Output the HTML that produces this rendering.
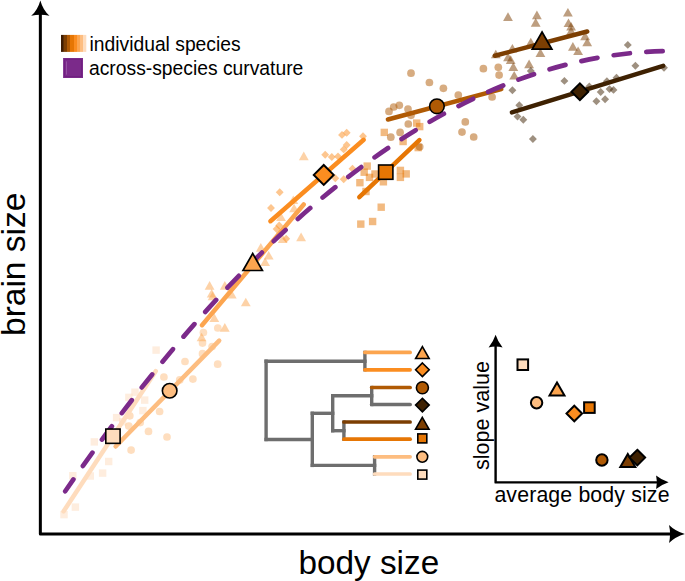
<!DOCTYPE html>
<html><head><meta charset="utf-8">
<style>
html,body{margin:0;padding:0;background:#fff;width:685px;height:581px;overflow:hidden}
svg{display:block}
text{font-family:"Liberation Sans",sans-serif;fill:#000}
</style></head><body>
<svg width="685" height="581" viewBox="0 0 685 581">
<defs>
<linearGradient id="lg" x1="0" x2="1" y1="0" y2="0">
<stop offset="0" stop-color="#3d1c02"/><stop offset="0.087" stop-color="#3d1c02"/>
<stop offset="0.087" stop-color="#5c2e04"/><stop offset="0.13" stop-color="#5c2e04"/>
<stop offset="0.13" stop-color="#7c3e02"/><stop offset="0.237" stop-color="#7c3e02"/>
<stop offset="0.237" stop-color="#b05a04"/><stop offset="0.348" stop-color="#b05a04"/>
<stop offset="0.348" stop-color="#e67604"/><stop offset="0.514" stop-color="#e67604"/>
<stop offset="0.514" stop-color="#fb8d20"/><stop offset="0.64" stop-color="#fb8d20"/>
<stop offset="0.64" stop-color="#fca54f"/><stop offset="0.75" stop-color="#fca54f"/>
<stop offset="0.75" stop-color="#fdbd80"/><stop offset="0.877" stop-color="#fdbd80"/>
<stop offset="0.877" stop-color="#fedcbd"/><stop offset="1" stop-color="#fedcbd"/>
</linearGradient></defs>
<rect x="60.30" y="510.90" width="7.40" height="7.40" fill="#fedcbd" fill-opacity="0.5"/>
<rect x="71.70" y="503.40" width="7.40" height="7.40" fill="#fedcbd" fill-opacity="0.5"/>
<rect x="69.10" y="472.00" width="7.40" height="7.40" fill="#fedcbd" fill-opacity="0.5"/>
<rect x="86.60" y="472.30" width="7.40" height="7.40" fill="#fedcbd" fill-opacity="0.5"/>
<rect x="98.90" y="469.40" width="7.40" height="7.40" fill="#fedcbd" fill-opacity="0.5"/>
<rect x="105.00" y="457.80" width="7.40" height="7.40" fill="#fedcbd" fill-opacity="0.5"/>
<rect x="90.60" y="438.20" width="7.40" height="7.40" fill="#fedcbd" fill-opacity="0.5"/>
<rect x="119.00" y="418.10" width="7.40" height="7.40" fill="#fedcbd" fill-opacity="0.5"/>
<rect x="152.40" y="346.40" width="7.40" height="7.40" fill="#fedcbd" fill-opacity="0.5"/>
<rect x="131.30" y="388.50" width="7.40" height="7.40" fill="#fedcbd" fill-opacity="0.5"/>
<rect x="125.20" y="393.70" width="7.40" height="7.40" fill="#fedcbd" fill-opacity="0.5"/>
<rect x="141.00" y="396.40" width="7.40" height="7.40" fill="#fedcbd" fill-opacity="0.5"/>
<rect x="139.20" y="406.90" width="7.40" height="7.40" fill="#fedcbd" fill-opacity="0.5"/>
<rect x="112.90" y="413.90" width="7.40" height="7.40" fill="#fedcbd" fill-opacity="0.5"/>
<circle cx="131.10" cy="450.10" r="3.85" fill="#fdbd80" fill-opacity="0.5"/>
<circle cx="148.50" cy="431.40" r="3.85" fill="#fdbd80" fill-opacity="0.5"/>
<circle cx="167.00" cy="437.00" r="3.85" fill="#fdbd80" fill-opacity="0.5"/>
<circle cx="128.80" cy="426.10" r="3.85" fill="#fdbd80" fill-opacity="0.5"/>
<circle cx="140.20" cy="422.60" r="3.85" fill="#fdbd80" fill-opacity="0.5"/>
<circle cx="185.00" cy="361.50" r="3.85" fill="#fdbd80" fill-opacity="0.5"/>
<circle cx="163.90" cy="377.00" r="3.85" fill="#fdbd80" fill-opacity="0.5"/>
<circle cx="192.90" cy="379.10" r="3.85" fill="#fdbd80" fill-opacity="0.5"/>
<circle cx="217.70" cy="364.20" r="3.85" fill="#fdbd80" fill-opacity="0.5"/>
<circle cx="212.10" cy="346.60" r="3.85" fill="#fdbd80" fill-opacity="0.5"/>
<circle cx="202.50" cy="343.10" r="3.85" fill="#fdbd80" fill-opacity="0.5"/>
<circle cx="203.40" cy="332.60" r="3.85" fill="#fdbd80" fill-opacity="0.5"/>
<circle cx="202.50" cy="353.70" r="3.85" fill="#fdbd80" fill-opacity="0.5"/>
<circle cx="159.60" cy="411.50" r="3.85" fill="#fdbd80" fill-opacity="0.5"/>
<circle cx="129.80" cy="415.80" r="3.85" fill="#fdbd80" fill-opacity="0.5"/>
<circle cx="179.70" cy="379.90" r="3.85" fill="#fdbd80" fill-opacity="0.5"/>
<circle cx="217.80" cy="328.00" r="3.85" fill="#fdbd80" fill-opacity="0.5"/>
<path d="M201.60,332.71L206.50,341.29L196.70,341.29Z" fill="#fca54f" fill-opacity="0.5" stroke-linejoin="miter"/>
<path d="M209.60,281.11L214.50,289.69L204.70,289.69Z" fill="#fca54f" fill-opacity="0.5" stroke-linejoin="miter"/>
<path d="M224.80,281.11L229.70,289.69L219.90,289.69Z" fill="#fca54f" fill-opacity="0.5" stroke-linejoin="miter"/>
<path d="M211.70,289.01L216.60,297.59L206.80,297.59Z" fill="#fca54f" fill-opacity="0.5" stroke-linejoin="miter"/>
<path d="M212.60,291.71L217.50,300.29L207.70,300.29Z" fill="#fca54f" fill-opacity="0.5" stroke-linejoin="miter"/>
<path d="M231.80,289.91L236.70,298.49L226.90,298.49Z" fill="#fca54f" fill-opacity="0.5" stroke-linejoin="miter"/>
<path d="M245.80,297.71L250.70,306.29L240.90,306.29Z" fill="#fca54f" fill-opacity="0.5" stroke-linejoin="miter"/>
<path d="M214.30,313.51L219.20,322.09L209.40,322.09Z" fill="#fca54f" fill-opacity="0.5" stroke-linejoin="miter"/>
<path d="M224.80,323.11L229.70,331.69L219.90,331.69Z" fill="#fca54f" fill-opacity="0.5" stroke-linejoin="miter"/>
<path d="M265.10,257.51L270.00,266.09L260.20,266.09Z" fill="#fca54f" fill-opacity="0.5" stroke-linejoin="miter"/>
<path d="M294.10,203.71L299.00,212.29L289.20,212.29Z" fill="#fca54f" fill-opacity="0.5" stroke-linejoin="miter"/>
<path d="M281.00,212.51L285.90,221.09L276.10,221.09Z" fill="#fca54f" fill-opacity="0.5" stroke-linejoin="miter"/>
<path d="M301.10,232.61L306.00,241.19L296.20,241.19Z" fill="#fca54f" fill-opacity="0.5" stroke-linejoin="miter"/>
<path d="M282.70,234.41L287.60,242.99L277.80,242.99Z" fill="#fca54f" fill-opacity="0.5" stroke-linejoin="miter"/>
<path d="M260.80,243.11L265.70,251.69L255.90,251.69Z" fill="#fca54f" fill-opacity="0.5" stroke-linejoin="miter"/>
<path d="M268.70,251.01L273.60,259.59L263.80,259.59Z" fill="#fca54f" fill-opacity="0.5" stroke-linejoin="miter"/>
<path d="M303.80,151.61L308.70,160.19L298.90,160.19Z" fill="#fca54f" fill-opacity="0.5" stroke-linejoin="miter"/>
<path d="M293.30,195.51L298.20,204.09L288.40,204.09Z" fill="#fca54f" fill-opacity="0.5" stroke-linejoin="miter"/>
<path d="M279.70,188.35L283.65,192.30L279.70,196.25L275.75,192.30Z" fill="#fb8d20" fill-opacity="0.5"/>
<path d="M271.00,204.05L274.95,208.00L271.00,211.95L267.05,208.00Z" fill="#fb8d20" fill-opacity="0.5"/>
<path d="M276.60,225.05L280.55,229.00L276.60,232.95L272.65,229.00Z" fill="#fb8d20" fill-opacity="0.5"/>
<path d="M279.20,221.55L283.15,225.50L279.20,229.45L275.25,225.50Z" fill="#fb8d20" fill-opacity="0.5"/>
<path d="M286.20,234.75L290.15,238.70L286.20,242.65L282.25,238.70Z" fill="#fb8d20" fill-opacity="0.5"/>
<path d="M342.00,130.95L345.95,134.90L342.00,138.85L338.05,134.90Z" fill="#fb8d20" fill-opacity="0.5"/>
<path d="M346.70,128.85L350.65,132.80L346.70,136.75L342.75,132.80Z" fill="#fb8d20" fill-opacity="0.5"/>
<path d="M363.00,132.35L366.95,136.30L363.00,140.25L359.05,136.30Z" fill="#fb8d20" fill-opacity="0.5"/>
<path d="M346.70,141.05L350.65,145.00L346.70,148.95L342.75,145.00Z" fill="#fb8d20" fill-opacity="0.5"/>
<path d="M343.70,145.45L347.65,149.40L343.70,153.35L339.75,149.40Z" fill="#fb8d20" fill-opacity="0.5"/>
<path d="M325.20,150.75L329.15,154.70L325.20,158.65L321.25,154.70Z" fill="#fb8d20" fill-opacity="0.5"/>
<path d="M331.80,153.05L335.75,157.00L331.80,160.95L327.85,157.00Z" fill="#fb8d20" fill-opacity="0.5"/>
<path d="M338.00,152.45L341.95,156.40L338.00,160.35L334.05,156.40Z" fill="#fb8d20" fill-opacity="0.5"/>
<path d="M352.50,164.75L356.45,168.70L352.50,172.65L348.55,168.70Z" fill="#fb8d20" fill-opacity="0.5"/>
<path d="M335.30,174.35L339.25,178.30L335.30,182.25L331.35,178.30Z" fill="#fb8d20" fill-opacity="0.5"/>
<path d="M343.70,175.25L347.65,179.20L343.70,183.15L339.75,179.20Z" fill="#fb8d20" fill-opacity="0.5"/>
<rect x="363.50" y="162.40" width="7.40" height="7.40" fill="#e67604" fill-opacity="0.5"/>
<rect x="360.50" y="168.50" width="7.40" height="7.40" fill="#e67604" fill-opacity="0.5"/>
<rect x="356.20" y="179.00" width="7.40" height="7.40" fill="#e67604" fill-opacity="0.5"/>
<rect x="365.80" y="173.70" width="7.40" height="7.40" fill="#e67604" fill-opacity="0.5"/>
<rect x="362.30" y="187.80" width="7.40" height="7.40" fill="#e67604" fill-opacity="0.5"/>
<rect x="380.60" y="128.70" width="7.40" height="7.40" fill="#e67604" fill-opacity="0.5"/>
<rect x="413.00" y="119.40" width="7.40" height="7.40" fill="#e67604" fill-opacity="0.5"/>
<rect x="416.00" y="122.90" width="7.40" height="7.40" fill="#e67604" fill-opacity="0.5"/>
<rect x="399.40" y="137.80" width="7.40" height="7.40" fill="#e67604" fill-opacity="0.5"/>
<rect x="371.30" y="170.30" width="7.40" height="7.40" fill="#e67604" fill-opacity="0.5"/>
<rect x="379.70" y="178.10" width="7.40" height="7.40" fill="#e67604" fill-opacity="0.5"/>
<rect x="396.70" y="166.70" width="7.40" height="7.40" fill="#e67604" fill-opacity="0.5"/>
<rect x="402.50" y="170.20" width="7.40" height="7.40" fill="#e67604" fill-opacity="0.5"/>
<rect x="396.70" y="173.70" width="7.40" height="7.40" fill="#e67604" fill-opacity="0.5"/>
<rect x="377.50" y="203.50" width="7.40" height="7.40" fill="#e67604" fill-opacity="0.5"/>
<rect x="368.90" y="217.80" width="7.40" height="7.40" fill="#e67604" fill-opacity="0.5"/>
<rect x="357.10" y="220.40" width="7.40" height="7.40" fill="#e67604" fill-opacity="0.5"/>
<rect x="414.50" y="143.90" width="7.40" height="7.40" fill="#e67604" fill-opacity="0.5"/>
<circle cx="389.00" cy="111.40" r="3.85" fill="#b05a04" fill-opacity="0.5"/>
<circle cx="411.00" cy="115.30" r="3.85" fill="#b05a04" fill-opacity="0.5"/>
<circle cx="408.30" cy="124.00" r="3.85" fill="#b05a04" fill-opacity="0.5"/>
<circle cx="400.10" cy="132.40" r="3.85" fill="#b05a04" fill-opacity="0.5"/>
<circle cx="390.80" cy="137.20" r="3.85" fill="#b05a04" fill-opacity="0.5"/>
<circle cx="419.70" cy="146.80" r="3.85" fill="#b05a04" fill-opacity="0.5"/>
<circle cx="411.00" cy="73.20" r="3.85" fill="#b05a04" fill-opacity="0.5"/>
<circle cx="429.40" cy="82.50" r="3.85" fill="#b05a04" fill-opacity="0.5"/>
<circle cx="443.40" cy="88.30" r="3.85" fill="#b05a04" fill-opacity="0.5"/>
<circle cx="458.30" cy="95.00" r="3.85" fill="#b05a04" fill-opacity="0.5"/>
<circle cx="483.40" cy="68.70" r="3.85" fill="#b05a04" fill-opacity="0.5"/>
<circle cx="498.30" cy="67.30" r="3.85" fill="#b05a04" fill-opacity="0.5"/>
<circle cx="499.10" cy="75.10" r="3.85" fill="#b05a04" fill-opacity="0.5"/>
<circle cx="492.10" cy="97.00" r="3.85" fill="#b05a04" fill-opacity="0.5"/>
<circle cx="399.30" cy="105.30" r="3.85" fill="#b05a04" fill-opacity="0.5"/>
<circle cx="393.70" cy="107.00" r="3.85" fill="#b05a04" fill-opacity="0.5"/>
<circle cx="408.00" cy="109.00" r="3.85" fill="#b05a04" fill-opacity="0.5"/>
<circle cx="465.30" cy="121.90" r="3.85" fill="#b05a04" fill-opacity="0.5"/>
<circle cx="462.00" cy="132.10" r="3.85" fill="#b05a04" fill-opacity="0.5"/>
<circle cx="473.70" cy="137.00" r="3.85" fill="#b05a04" fill-opacity="0.5"/>
<path d="M508.00,12.31L512.90,20.89L503.10,20.89Z" fill="#7c3e02" fill-opacity="0.5" stroke-linejoin="miter"/>
<path d="M536.90,10.61L541.80,19.19L532.00,19.19Z" fill="#7c3e02" fill-opacity="0.5" stroke-linejoin="miter"/>
<path d="M535.70,18.11L540.60,26.69L530.80,26.69Z" fill="#7c3e02" fill-opacity="0.5" stroke-linejoin="miter"/>
<path d="M567.90,8.01L572.80,16.59L563.00,16.59Z" fill="#7c3e02" fill-opacity="0.5" stroke-linejoin="miter"/>
<path d="M568.50,18.51L573.40,27.09L563.60,27.09Z" fill="#7c3e02" fill-opacity="0.5" stroke-linejoin="miter"/>
<path d="M571.10,22.01L576.00,30.59L566.20,30.59Z" fill="#7c3e02" fill-opacity="0.5" stroke-linejoin="miter"/>
<path d="M571.10,26.41L576.00,34.99L566.20,34.99Z" fill="#7c3e02" fill-opacity="0.5" stroke-linejoin="miter"/>
<path d="M585.10,31.61L590.00,40.19L580.20,40.19Z" fill="#7c3e02" fill-opacity="0.5" stroke-linejoin="miter"/>
<path d="M587.20,37.71L592.10,46.29L582.30,46.29Z" fill="#7c3e02" fill-opacity="0.5" stroke-linejoin="miter"/>
<path d="M572.90,42.11L577.80,50.69L568.00,50.69Z" fill="#7c3e02" fill-opacity="0.5" stroke-linejoin="miter"/>
<path d="M578.10,46.51L583.00,55.09L573.20,55.09Z" fill="#7c3e02" fill-opacity="0.5" stroke-linejoin="miter"/>
<path d="M540.40,48.31L545.30,56.89L535.50,56.89Z" fill="#7c3e02" fill-opacity="0.5" stroke-linejoin="miter"/>
<path d="M530.80,37.71L535.70,46.29L525.90,46.29Z" fill="#7c3e02" fill-opacity="0.5" stroke-linejoin="miter"/>
<path d="M512.40,43.91L517.30,52.49L507.50,52.49Z" fill="#7c3e02" fill-opacity="0.5" stroke-linejoin="miter"/>
<path d="M495.80,49.71L500.70,58.29L490.90,58.29Z" fill="#7c3e02" fill-opacity="0.5" stroke-linejoin="miter"/>
<path d="M508.00,52.61L512.90,61.19L503.10,61.19Z" fill="#7c3e02" fill-opacity="0.5" stroke-linejoin="miter"/>
<path d="M510.70,55.31L515.60,63.89L505.80,63.89Z" fill="#7c3e02" fill-opacity="0.5" stroke-linejoin="miter"/>
<path d="M513.30,62.31L518.20,70.89L508.40,70.89Z" fill="#7c3e02" fill-opacity="0.5" stroke-linejoin="miter"/>
<path d="M514.20,71.01L519.10,79.59L509.30,79.59Z" fill="#7c3e02" fill-opacity="0.5" stroke-linejoin="miter"/>
<path d="M529.10,59.61L534.00,68.19L524.20,68.19Z" fill="#7c3e02" fill-opacity="0.5" stroke-linejoin="miter"/>
<path d="M530.80,67.05L534.75,71.00L530.80,74.95L526.85,71.00Z" fill="#3e2102" fill-opacity="0.5"/>
<path d="M512.40,86.25L516.35,90.20L512.40,94.15L508.45,90.20Z" fill="#3e2102" fill-opacity="0.5"/>
<path d="M564.40,76.95L568.35,80.90L564.40,84.85L560.45,80.90Z" fill="#3e2102" fill-opacity="0.5"/>
<path d="M519.30,101.35L523.25,105.30L519.30,109.25L515.35,105.30Z" fill="#3e2102" fill-opacity="0.5"/>
<path d="M517.50,112.65L521.45,116.60L517.50,120.55L513.55,116.60Z" fill="#3e2102" fill-opacity="0.5"/>
<path d="M523.30,115.75L527.25,119.70L523.30,123.65L519.35,119.70Z" fill="#3e2102" fill-opacity="0.5"/>
<path d="M532.90,135.05L536.85,139.00L532.90,142.95L528.95,139.00Z" fill="#3e2102" fill-opacity="0.5"/>
<path d="M600.70,88.05L604.65,92.00L600.70,95.95L596.75,92.00Z" fill="#3e2102" fill-opacity="0.5"/>
<path d="M596.40,97.35L600.35,101.30L596.40,105.25L592.45,101.30Z" fill="#3e2102" fill-opacity="0.5"/>
<path d="M605.10,95.25L609.05,99.20L605.10,103.15L601.15,99.20Z" fill="#3e2102" fill-opacity="0.5"/>
<path d="M606.90,77.25L610.85,81.20L606.90,85.15L602.95,81.20Z" fill="#3e2102" fill-opacity="0.5"/>
<path d="M609.50,85.15L613.45,89.10L609.50,93.05L605.55,89.10Z" fill="#3e2102" fill-opacity="0.5"/>
<path d="M613.50,85.95L617.45,89.90L613.50,93.85L609.55,89.90Z" fill="#3e2102" fill-opacity="0.5"/>
<path d="M616.50,73.75L620.45,77.70L616.50,81.65L612.55,77.70Z" fill="#3e2102" fill-opacity="0.5"/>
<path d="M589.30,82.45L593.25,86.40L589.30,90.35L585.35,86.40Z" fill="#3e2102" fill-opacity="0.5"/>
<path d="M627.80,40.95L631.75,44.90L627.80,48.85L623.85,44.90Z" fill="#3e2102" fill-opacity="0.5"/>
<path d="M635.40,61.85L639.35,65.80L635.40,69.75L631.45,65.80Z" fill="#3e2102" fill-opacity="0.5"/>
<path d="M664.00,63.75L667.95,67.70L664.00,71.65L660.05,67.70Z" fill="#3e2102" fill-opacity="0.5"/>
<line x1="63.6" y1="511.3" x2="155.7" y2="371.2" stroke="#fedcbd" stroke-width="4.5" stroke-linecap="round"/>
<line x1="115.6" y1="446.5" x2="219.2" y2="340.6" stroke="#fdbd80" stroke-width="4.5" stroke-linecap="round"/>
<line x1="202" y1="325.2" x2="303.7" y2="204.5" stroke="#fca54f" stroke-width="4.5" stroke-linecap="round"/>
<line x1="270.4" y1="221.2" x2="363.7" y2="139.8" stroke="#fb8d20" stroke-width="4.5" stroke-linecap="round"/>
<line x1="359.3" y1="197.1" x2="419.4" y2="140.1" stroke="#e67604" stroke-width="4.5" stroke-linecap="round"/>
<line x1="387.9" y1="119.5" x2="501.3" y2="89.2" stroke="#b05a04" stroke-width="4.5" stroke-linecap="round"/>
<line x1="494.9" y1="55.7" x2="587.2" y2="31.5" stroke="#7c3e02" stroke-width="4.5" stroke-linecap="round"/>
<line x1="511.9" y1="112.4" x2="663.2" y2="65.8" stroke="#3e2102" stroke-width="4.5" stroke-linecap="round"/>
<path d="M65.20,491.22 Q364.60,58.07 664.00,51.04" fill="none" stroke="#7b2a8a" stroke-width="4.7" stroke-linecap="round" stroke-dasharray="16.4 16.42" stroke-dashoffset="2.31"/>
<rect x="105.80" y="429.05" width="14.30" height="14.30" fill="#fedcbd" stroke="#000" stroke-width="1.6"/>
<circle cx="169.65" cy="390.75" r="7.30" fill="#fdbd80" stroke="#000" stroke-width="1.6"/>
<path d="M252.70,253.51L262.40,270.49L243.00,270.49Z" fill="#fca54f" stroke="#000" stroke-width="1.7" stroke-linejoin="miter"/>
<path d="M323.75,164.95L333.70,174.90L323.75,184.85L313.80,174.90Z" fill="#fb8d20" stroke="#000" stroke-width="2.0"/>
<rect x="378.60" y="165.00" width="14.30" height="14.30" fill="#e67604" stroke="#000" stroke-width="1.6"/>
<circle cx="436.90" cy="106.30" r="7.30" fill="#b05a04" stroke="#000" stroke-width="1.6"/>
<path d="M542.05,31.98L551.90,49.22L532.20,49.22Z" fill="#7c3e02" stroke="#000" stroke-width="1.7" stroke-linejoin="miter"/>
<path d="M579.90,83.35L588.30,91.75L579.90,100.15L571.50,91.75Z" fill="#3e2102" stroke="#000" stroke-width="2.0"/>
<rect x="61" y="34.9" width="25.3" height="17" fill="url(#lg)"/>
<rect x="63.1" y="58" width="19.9" height="20" fill="#7b2a8a"/>
<rect x="64.6" y="59.6" width="16.8" height="16.8" fill="none" stroke="#6f1d7f" stroke-width="0.8"/>
<line x1="66.5" y1="61.4" x2="66.5" y2="74.6" stroke="#9b5aa8" stroke-width="0.8"/>
<text x="89.5" y="50.6" font-size="19.3">individual species</text>
<text x="89" y="75" font-size="19.3">across-species curvature</text>
<path d="M40.35,12 V534.1 H672" fill="none" stroke="#000" stroke-width="3" stroke-linejoin="round"/>
<path d="M40.35,0.4 Q37.7,10 31.2,15.8 Q40.35,13.7 49.5,15.8 Q43.0,10 40.35,0.4Z" fill="#000"/>
<path d="M684.9,534 Q675.4,531.3 669,525.0 Q671.1,534 669,543.0 Q675.4,536.7 684.9,534Z" fill="#000"/>
<text x="298.5" y="573.5" font-size="33.3">body size</text>
<text transform="translate(24.5,336) rotate(-90)" font-size="33.5">brain size</text>
<line x1="266.1" y1="361.2" x2="266.1" y2="439.5" stroke="#6e6e6e" stroke-width="3.4" stroke-linecap="square"/>
<line x1="266.1" y1="361.2" x2="364.9" y2="361.2" stroke="#6e6e6e" stroke-width="3.4" stroke-linecap="square"/>
<line x1="364.9" y1="352.4" x2="364.9" y2="369.8" stroke="#6e6e6e" stroke-width="3.4" stroke-linecap="square"/>
<line x1="266.1" y1="439.5" x2="312.3" y2="439.5" stroke="#6e6e6e" stroke-width="3.4" stroke-linecap="square"/>
<line x1="312.3" y1="413.3" x2="312.3" y2="465.4" stroke="#6e6e6e" stroke-width="3.4" stroke-linecap="square"/>
<line x1="312.3" y1="413.3" x2="332.7" y2="413.3" stroke="#6e6e6e" stroke-width="3.4" stroke-linecap="square"/>
<line x1="332.7" y1="395.8" x2="332.7" y2="430.7" stroke="#6e6e6e" stroke-width="3.4" stroke-linecap="square"/>
<line x1="332.7" y1="395.8" x2="371.7" y2="395.8" stroke="#6e6e6e" stroke-width="3.4" stroke-linecap="square"/>
<line x1="371.7" y1="387.5" x2="371.7" y2="404.5" stroke="#6e6e6e" stroke-width="3.4" stroke-linecap="square"/>
<line x1="332.7" y1="430.7" x2="343.9" y2="430.7" stroke="#6e6e6e" stroke-width="3.4" stroke-linecap="square"/>
<line x1="343.9" y1="422" x2="343.9" y2="439.2" stroke="#6e6e6e" stroke-width="3.4" stroke-linecap="square"/>
<line x1="312.3" y1="465.4" x2="374.6" y2="465.4" stroke="#6e6e6e" stroke-width="3.4" stroke-linecap="square"/>
<line x1="374.6" y1="456.8" x2="374.6" y2="474" stroke="#6e6e6e" stroke-width="3.4" stroke-linecap="square"/>
<line x1="364.9" y1="352.4" x2="410.1" y2="352.4" stroke="#fca54f" stroke-width="3.7" stroke-linecap="round"/>
<line x1="364.9" y1="369.8" x2="410.1" y2="369.8" stroke="#fb8d20" stroke-width="3.7" stroke-linecap="round"/>
<line x1="371.7" y1="387.5" x2="410.1" y2="387.5" stroke="#b05a04" stroke-width="3.7" stroke-linecap="round"/>
<line x1="371.7" y1="404.5" x2="410.1" y2="404.5" stroke="#6e6e6e" stroke-width="3.7" stroke-linecap="round"/>
<line x1="343.9" y1="422" x2="410.1" y2="422" stroke="#7c3e02" stroke-width="3.7" stroke-linecap="round"/>
<line x1="343.9" y1="439.2" x2="410.1" y2="439.2" stroke="#e67604" stroke-width="3.7" stroke-linecap="round"/>
<line x1="374.6" y1="456.8" x2="410.1" y2="456.8" stroke="#fdbd80" stroke-width="3.7" stroke-linecap="round"/>
<line x1="374.6" y1="474" x2="410.1" y2="474" stroke="#fedcbd" stroke-width="3.7" stroke-linecap="round"/>
<path d="M422.40,346.69L429.15,358.51L415.65,358.51Z" fill="#fca54f" stroke="#000" stroke-width="1.6" stroke-linejoin="miter"/>
<path d="M422.40,363.00L429.20,369.80L422.40,376.60L415.60,369.80Z" fill="#fb8d20" stroke="#000" stroke-width="1.6"/>
<circle cx="422.40" cy="387.80" r="6.00" fill="#b05a04" stroke="#000" stroke-width="1.6"/>
<path d="M422.40,398.30L429.20,405.10L422.40,411.90L415.60,405.10Z" fill="#3e2102" stroke="#000" stroke-width="1.6"/>
<path d="M422.30,417.39L429.05,429.21L415.55,429.21Z" fill="#7c3e02" stroke="#000" stroke-width="1.6" stroke-linejoin="miter"/>
<rect x="417.80" y="433.90" width="9.00" height="9.00" fill="#e67604" stroke="#000" stroke-width="1.6"/>
<circle cx="422.30" cy="456.80" r="5.40" fill="#fdbd80" stroke="#000" stroke-width="1.6"/>
<rect x="417.80" y="470.10" width="9.00" height="9.00" fill="#fedcbd" stroke="#000" stroke-width="1.6"/>
<path d="M495.6,345 V482.4 H660" fill="none" stroke="#000" stroke-width="2.4" stroke-linejoin="round"/>
<path d="M495.6,334.7 Q493.4,341.5 488.6,347.4 Q495.6,345.6 502.6,347.4 Q497.8,341.5 495.6,334.7Z" fill="#000"/>
<path d="M668.6,482.3 Q661.8,480.1 656.1,475.5 Q657.8,482.3 656.1,489.1 Q661.8,484.5 668.6,482.3Z" fill="#000"/>
<text x="494.4" y="502" font-size="21.3" letter-spacing="0.14">average body size</text>
<text transform="translate(488.6,470) rotate(-90)" font-size="21.55">slope value</text>
<rect x="517.50" y="359.40" width="10.60" height="10.60" fill="#fedcbd" stroke="#000" stroke-width="2"/>
<path d="M557.00,382.44L564.50,395.56L549.50,395.56Z" fill="#fca54f" stroke="#000" stroke-width="2" stroke-linejoin="miter"/>
<circle cx="536.60" cy="402.70" r="5.70" fill="#fdbd80" stroke="#000" stroke-width="2"/>
<path d="M574.30,405.70L582.10,413.50L574.30,421.30L566.50,413.50Z" fill="#fb8d20" stroke="#000" stroke-width="2"/>
<rect x="584.10" y="402.30" width="10.60" height="10.60" fill="#e67604" stroke="#000" stroke-width="2"/>
<circle cx="601.90" cy="460.00" r="5.70" fill="#b05a04" stroke="#000" stroke-width="2"/>
<path d="M627.80,453.94L635.30,467.06L620.30,467.06Z" fill="#7c3e02" stroke="#000" stroke-width="2" stroke-linejoin="miter"/>
<path d="M637.30,449.80L645.10,457.60L637.30,465.40L629.50,457.60Z" fill="#3e2102" stroke="#000" stroke-width="2"/>
</svg>
</body></html>
